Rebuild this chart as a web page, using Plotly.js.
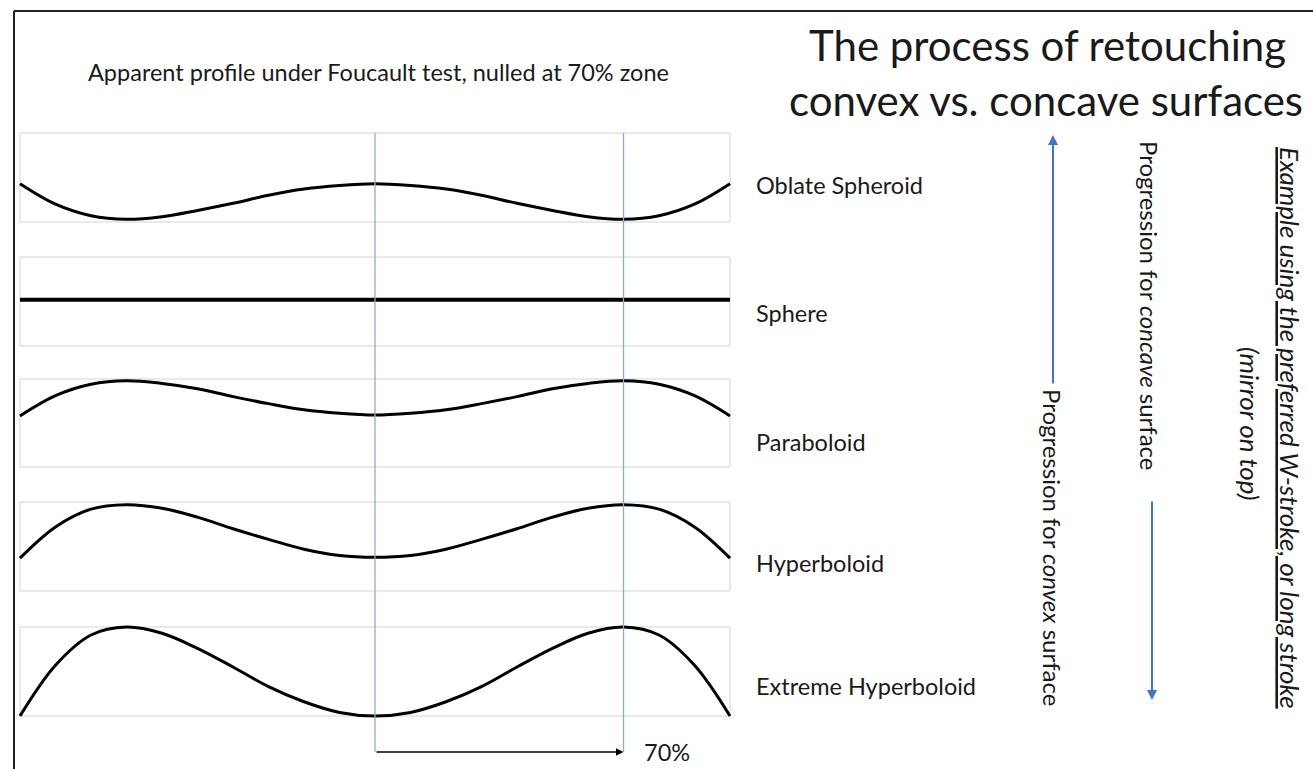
<!DOCTYPE html>
<html>
<head>
<meta charset="utf-8">
<script src="https://cdn.plot.ly/plotly-3.0.1.min.js"></script>
<style>html,body{margin:0;padding:0;background:#fff;}#chart{width:1313px;height:769px;}</style>
</head>
<body>
<div id="chart"></div>
<script>
// Radial position across the mirror (-1 = left edge, 0 = centre, 1 = right edge)
const radius = [-1.0,-0.9,-0.8,-0.7,-0.6,-0.5,-0.4,-0.3,-0.2,-0.1,0.0,0.1,0.2,0.3,0.4,0.5,0.6,0.7,0.8,0.9,1.0];
const zone70 = 0.7;

// Apparent profile height within each panel (0 = bottom of box, 1 = top of box)
const shapeNames = ["Oblate Spheroid","Sphere","Paraboloid","Hyperboloid","Extreme Hyperboloid"];
const oblateSpheroid = [0.43,0.20,0.07,0.03,0.06,0.13,0.21,0.30,0.37,0.41,0.43,0.41,0.37,0.30,0.21,0.13,0.06,0.03,0.07,0.20,0.43];
const sphere         = [0.52,0.52,0.52,0.52,0.52,0.52,0.52,0.52,0.52,0.52,0.52,0.52,0.52,0.52,0.52,0.52,0.52,0.52,0.52,0.52,0.52];
const paraboloid     = [0.58,0.81,0.94,0.98,0.95,0.89,0.80,0.72,0.65,0.61,0.59,0.61,0.65,0.72,0.80,0.89,0.95,0.98,0.94,0.81,0.58];
const hyperboloid    = [0.37,0.72,0.92,0.97,0.93,0.83,0.70,0.58,0.47,0.40,0.38,0.40,0.47,0.58,0.70,0.83,0.93,0.97,0.92,0.72,0.37];
const extremeHyper   = [0.00,0.57,0.91,1.00,0.93,0.76,0.55,0.33,0.16,0.04,0.00,0.04,0.16,0.33,0.55,0.76,0.93,1.00,0.91,0.57,0.00];
const profiles = [oblateSpheroid, sphere, paraboloid, hyperboloid, extremeHyper];

// Texts
const leftTitle = "Apparent profile under Foucault test, nulled at 70% zone";
const mainTitle1 = "The process of retouching";
const mainTitle2 = "convex vs. concave surfaces";
const zoneLabel = "70%";
const convexText = "Progression for <i>convex</i> surface";
const concaveText = "Progression for <i>concave</i> surface";
const exampleText = "<i>Example using the preferred W-stroke, or long stroke</i>";
const mirrorText = "<i>(mirror on top)</i>";

// ---------- layout helpers (pixel -> paper) ----------
const W = 1313, H = 769;
const px = v => v / W;
const py = v => 1 - v / H;
const FONT = "Lato, 'Open Sans', sans-serif";
const TXT = '#1a1a1a';

const panelTop = [133, 257, 379, 502, 627];
const panelBot = [222, 346, 467, 591, 716];
const labelY   = [185, 313, 442, 563, 686];
const yPad = 0.06;
const xPad = 0.01;
const xLeft = 20, xRight = 730;
const pxPerUnit = (xRight - xLeft) / 2;

const traces = [];
const layout = {
  width: W, height: H,
  margin: {l: 0, r: 0, t: 0, b: 0},
  paper_bgcolor: '#ffffff', plot_bgcolor: 'rgba(0,0,0,0)',
  showlegend: false,
  font: {family: FONT, color: TXT},
  xaxis: {
    domain: [px(xLeft - xPad * pxPerUnit), px(xRight + xPad * pxPerUnit)],
    range: [-1 - xPad, 1 + xPad],
    visible: false, fixedrange: true
  },
  shapes: [],
  annotations: []
};

profiles.forEach((vals, i) => {
  const n = i + 1;
  const yName = n === 1 ? 'y' : 'y' + n;
  const axKey = n === 1 ? 'yaxis' : 'yaxis' + n;
  const h = panelBot[i] - panelTop[i];
  const padPx = yPad * h;
  layout[axKey] = {
    domain: [py(panelBot[i] + padPx), py(panelTop[i] - padPx)],
    range: [-yPad, 1 + yPad],
    visible: false, fixedrange: true
  };
  traces.push({
    type: 'scatter', mode: 'lines', name: shapeNames[i],
    x: radius, y: vals, xaxis: 'x', yaxis: yName,
    line: {color: '#000', width: i === 1 ? 4 : 3, shape: 'spline', smoothing: 1},
    hoverinfo: 'skip'
  });
  layout.shapes.push({
    type: 'rect', xref: 'x', yref: yName, x0: -1, x1: 1, y0: 0, y1: 1,
    line: {color: '#d4d4d4', width: 1}, layer: 'below'
  });
  layout.annotations.push({
    xref: 'paper', yref: 'paper', x: px(754), y: py(labelY[i]),
    xanchor: 'left', yanchor: 'middle', showarrow: false,
    text: shapeNames[i], font: {family: FONT, size: 23.5, color: TXT}
  });
});

// Blue vertical reference lines (centre and 70% zone)
[0, zone70].forEach(xv => {
  layout.shapes.push({
    type: 'line', xref: 'x', yref: 'paper', x0: xv, x1: xv,
    y0: py(133), y1: py(752),
    line: {color: '#8eaadb', width: 1.3}
  });
});

// Outer frame (top and left edges)
layout.shapes.push({type: 'line', xref: 'paper', yref: 'paper', x0: px(14), x1: 1, y0: py(11), y1: py(11), line: {color: '#222', width: 2}});
layout.shapes.push({type: 'line', xref: 'paper', yref: 'paper', x0: px(14), x1: px(14), y0: py(11), y1: 0, line: {color: '#222', width: 2}});

// 70% arrow
layout.annotations.push({
  xref: 'x', yref: 'paper', x: zone70, y: py(752),
  axref: 'pixel', ayref: 'pixel', ax: -zone70 * pxPerUnit, ay: 0,
  text: '', showarrow: true, arrowhead: 2, arrowsize: 1, arrowwidth: 1.5,
  arrowcolor: '#000', standoff: 0
});
layout.annotations.push({
  xref: 'paper', yref: 'paper', x: px(667), y: py(752),
  xanchor: 'center', yanchor: 'middle', showarrow: false,
  text: zoneLabel, font: {family: FONT, size: 23.5, color: TXT}
});

// Left title
layout.annotations.push({
  xref: 'paper', yref: 'paper', x: px(378), y: py(72),
  xanchor: 'center', yanchor: 'middle', showarrow: false,
  text: leftTitle, font: {family: FONT, size: 23.5, color: TXT}
});
// Main title
layout.annotations.push({
  xref: 'paper', yref: 'paper', x: px(1047), y: py(45),
  xanchor: 'center', yanchor: 'middle', showarrow: false,
  text: mainTitle1, font: {family: FONT, size: 42, color: TXT}
});
layout.annotations.push({
  xref: 'paper', yref: 'paper', x: px(1046), y: py(100),
  xanchor: 'center', yanchor: 'middle', showarrow: false,
  text: mainTitle2, font: {family: FONT, size: 42, color: TXT}
});

// Progression arrows
layout.annotations.push({
  xref: 'paper', yref: 'paper', x: px(1053), y: py(135),
  axref: 'pixel', ayref: 'pixel', ax: 0, ay: 250,
  text: '', showarrow: true, arrowhead: 2, arrowsize: 1, arrowwidth: 2,
  arrowcolor: '#4472c4', standoff: 0
});
layout.annotations.push({
  xref: 'paper', yref: 'paper', x: px(1152), y: py(700),
  axref: 'pixel', ayref: 'pixel', ax: 0, ay: -200,
  text: '', showarrow: true, arrowhead: 2, arrowsize: 1, arrowwidth: 2,
  arrowcolor: '#4472c4', standoff: 0
});

// Rotated texts
const rot = (x, y, text, size, extra) => ({
  xref: 'paper', yref: 'paper', x: px(x), y: py(y),
  xanchor: 'center', yanchor: 'middle', showarrow: false, textangle: 90,
  text: text, font: Object.assign({family: FONT, size: size, color: TXT}, extra || {})
});
layout.annotations.push(rot(1053, 547, convexText, 24));
layout.annotations.push(rot(1150, 305, concaveText, 24));
layout.annotations.push(rot(1250, 424, mirrorText, 26));
layout.annotations.push(rot(1290, 428, exampleText, 26, {lineposition: 'under'}));

Plotly.newPlot('chart', traces, layout, {displayModeBar: false, staticPlot: true});
</script>
</body>
</html>
